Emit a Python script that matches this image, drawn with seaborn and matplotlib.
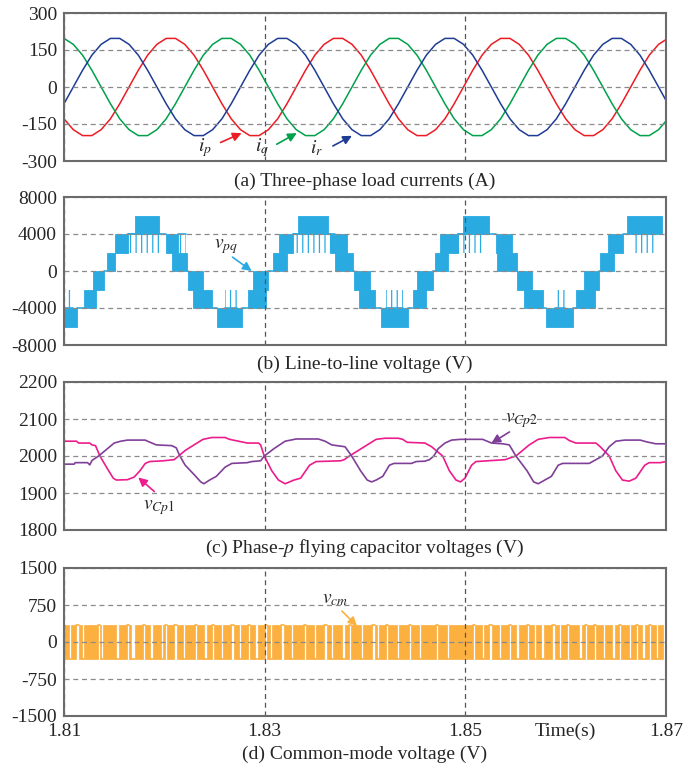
import numpy as np
import matplotlib
matplotlib.use("Agg")
import matplotlib.pyplot as plt
import seaborn as sns

# ---------------- data ----------------
T_START, T_END = 1.81, 1.87
X_TICKS = [1.81, 1.83, 1.85, 1.87]
X_TICK_LABELS = ["1.81", "1.83", "1.85", "1.87"]

# (a) three-phase load currents, sampled every 1/1080 s from 1.81 s
CURRENT_SAMPLE_RATE = 1080.0
i_p = [-129, -173, -197, -197, -173, -129, -68, 0, 68, 129, 173, 197,
       197, 173, 129, 68, 0, -68, -129, -173, -197, -197, -173, -129, -68, 0, 68, 129, 173, 197,
       197, 173, 129, 68, 0, -68, -129, -173, -197, -197, -173, -129, -68, 0, 68, 129, 173, 197,
       197, 173, 129, 68, 0, -68, -129, -173, -197, -197, -173, -129, -68, 0, 68, 129, 173, 197]
i_q = [197, 173, 129, 68, 0, -68, -129, -173, -197, -197, -173, -129, -68, 0, 68, 129, 173, 197,
       197, 173, 129, 68, 0, -68, -129, -173, -197, -197, -173, -129, -68, 0, 68, 129, 173, 197,
       197, 173, 129, 68, 0, -68, -129, -173, -197, -197, -173, -129, -68, 0, 68, 129, 173, 197,
       197, 173, 129, 68, 0, -68, -129, -173, -197, -197, -173, -129]
i_r = [-68, 0, 68, 129, 173, 197,
       197, 173, 129, 68, 0, -68, -129, -173, -197, -197, -173, -129, -68, 0, 68, 129, 173, 197,
       197, 173, 129, 68, 0, -68, -129, -173, -197, -197, -173, -129, -68, 0, 68, 129, 173, 197,
       197, 173, 129, 68, 0, -68, -129, -173, -197, -197, -173, -129, -68, 0, 68, 129, 173, 197,
       197, 173, 129, 68, 0, -68]
yticks_a = [-300, -150, 0, 150, 300]

# (b) line-to-line voltage: dense PWM blocks between lo and lo + step
VPQ_STEP = 2000
vpq_t0 = [1.81000, 1.81199, 1.81289, 1.81429, 1.81508, 1.81708, 1.82017, 1.82076, 1.82236, 1.82286,
          1.82525, 1.82834, 1.82884, 1.83083, 1.83143, 1.83332, 1.83651, 1.83701, 1.83890, 1.83940,
          1.84160, 1.84478, 1.84518, 1.84698, 1.84748, 1.84977, 1.85306, 1.85316, 1.85515, 1.85585,
          1.85804, 1.86103, 1.86183, 1.86342, 1.86422, 1.86611]
vpq_t1 = [1.81130, 1.81319, 1.81399, 1.81508, 1.81638, 1.81947, 1.82136, 1.82226, 1.82385, 1.82475,
          1.82774, 1.83013, 1.83033, 1.83223, 1.83282, 1.83631, 1.83821, 1.83880, 1.84050, 1.84100,
          1.84429, 1.84608, 1.84678, 1.84827, 1.84927, 1.85236, 1.85465, 1.85515, 1.85665, 1.85774,
          1.86073, 1.86292, 1.86332, 1.86482, 1.86572, 1.86960]
vpq_lo = [-6000, -4000, -2000, 0, 2000, 4000, 2000, 0, -2000, -4000,
          -6000, -4000, -2000, 0, 2000, 4000, 2000, 0, -2000, -4000,
          -6000, -4000, -2000, 0, 2000, 4000, 2000, 0, -2000, -4000,
          -6000, -4000, -2000, 0, 2000, 4000]
# sparse switching regions (occasional pulses) and the level the signal dwells at
vpq_sp_t0 = [1.81000, 1.81638, 1.82136, 1.82605, 1.83282, 1.84209, 1.84927, 1.85027, 1.85894, 1.86661]
vpq_sp_t1 = [1.81090, 1.81957, 1.82216, 1.82724, 1.83701, 1.84379, 1.85007, 1.85196, 1.85993, 1.86900]
vpq_sp_lo = [-4000, 2000, 2000, -4000, 2000, -4000, 2000, 2000, -4000, 2000]
vpq_sp_dwell = [-4000, 4000, 4000, -4000, 4000, -4000, 4000, 4000, -4000, 4000]
yticks_b = [-8000, -4000, 0, 4000, 8000]

# (c) phase-p flying capacitor voltages
vcp1_t = [1.81000, 1.81124, 1.81146, 1.81257, 1.81279, 1.81314, 1.81358, 1.81434, 1.81491, 1.81522,
          1.81633, 1.81699, 1.81757, 1.81810, 1.81854, 1.81987, 1.82097, 1.82142, 1.82208, 1.82296,
          1.82385, 1.82473, 1.82606, 1.82650, 1.82739, 1.82827, 1.82938, 1.82960, 1.82996, 1.83071,
          1.83137, 1.83204, 1.83292, 1.83358, 1.83447, 1.83513, 1.83757, 1.83792, 1.83845, 1.84022,
          1.84111, 1.84199, 1.84332, 1.84376, 1.84420, 1.84597, 1.84664, 1.84774, 1.84841, 1.84907,
          1.84951, 1.84996, 1.85062, 1.85106, 1.85394, 1.85504, 1.85637, 1.85726, 1.85836, 1.85991,
          1.86035, 1.86102, 1.86301, 1.86345, 1.86434, 1.86500, 1.86566, 1.86633, 1.86699, 1.86788,
          1.86832, 1.86943, 1.87000]
vcp1_v = [2040, 2040, 2035, 2035, 2030, 2028, 2000, 1965, 1940, 1935,
          1936, 1943, 1960, 1980, 1985, 1987, 1990, 2000, 2015, 2030,
          2045, 2050, 2050, 2045, 2040, 2035, 2035, 2030, 2000, 1960,
          1935, 1925, 1935, 1940, 1975, 1985, 1987, 1990, 2000, 2030,
          2045, 2048, 2048, 2045, 2037, 2035, 2025, 2000, 1960, 1935,
          1930, 1940, 1975, 1985, 1990, 2000, 2030, 2045, 2050, 2050,
          2042, 2035, 2035, 2025, 2000, 1960, 1935, 1932, 1940, 1975,
          1982, 1982, 1985]
vcp2_t = [1.81000, 1.81102, 1.81111, 1.81235, 1.81257, 1.81279, 1.81345, 1.81434, 1.81500, 1.81566,
          1.81633, 1.81810, 1.81832, 1.81876, 1.81920, 1.82075, 1.82119, 1.82155, 1.82208, 1.82296,
          1.82363, 1.82394, 1.82451, 1.82518, 1.82606, 1.82673, 1.82827, 1.82872, 1.82960, 1.82996,
          1.83093, 1.83204, 1.83314, 1.83535, 1.83602, 1.83668, 1.83801, 1.83867, 1.83956, 1.84022,
          1.84066, 1.84111, 1.84177, 1.84243, 1.84288, 1.84465, 1.84509, 1.84597, 1.84642, 1.84686,
          1.84730, 1.84797, 1.84863, 1.84951, 1.85173, 1.85217, 1.85261, 1.85372, 1.85438, 1.85504,
          1.85615, 1.85681, 1.85726, 1.85792, 1.85858, 1.85925, 1.85969, 1.86235, 1.86301, 1.86367,
          1.86434, 1.86500, 1.86589, 1.86743, 1.86810, 1.86898, 1.87000]
vcp2_v = [1978, 1978, 1982, 1982, 1976, 1988, 2000, 2020, 2035, 2040,
          2043, 2043, 2040, 2035, 2030, 2028, 2022, 2000, 1975, 1950,
          1930, 1925, 1935, 1945, 1970, 1980, 1982, 1985, 1987, 2000,
          2020, 2040, 2046, 2046, 2040, 2030, 2025, 2000, 1960, 1935,
          1930, 1935, 1945, 1975, 1980, 1980, 1985, 1986, 1990, 2000,
          2020, 2035, 2043, 2045, 2045, 2040, 2035, 2033, 2030, 2000,
          1960, 1930, 1925, 1935, 1945, 1975, 1980, 1980, 1990, 2000,
          2025, 2040, 2043, 2043, 2038, 2033, 2033]
yticks_c = [1800, 1900, 2000, 2100, 2200]

# (d) common-mode voltage: two-level switching with the white gaps where it dwells
vcm_high, vcm_low = 335, -335
vcm_gap_t0 = [1.81050, 1.81115, 1.81182, 1.81339, 1.81371, 1.81523, 1.81628, 1.81668, 1.81788, 1.81862,
              1.81967, 1.82009, 1.82092, 1.82186, 1.82306, 1.82391, 1.82476, 1.82568, 1.82660, 1.82745,
              1.82834, 1.82899, 1.83004, 1.83056, 1.83159, 1.83263, 1.83393, 1.83493, 1.83587, 1.83664,
              1.83767, 1.83841, 1.83961, 1.84066, 1.84123, 1.84210, 1.84322, 1.84440, 1.84542, 1.84709,
              1.84821, 1.85078, 1.85167, 1.85232, 1.85340, 1.85437, 1.85501, 1.85616, 1.85688, 1.85751,
              1.85860, 1.85938, 1.86015, 1.86130, 1.86197, 1.86284, 1.86376, 1.86459, 1.86533, 1.86633,
              1.86703, 1.86758, 1.86832, 1.86905]
vcm_gap_t1 = [1.81070, 1.81145, 1.81197, 1.81359, 1.81386, 1.81553, 1.81648, 1.81708, 1.81808, 1.81892,
              1.81987, 1.82024, 1.82122, 1.82206, 1.82326, 1.82421, 1.82496, 1.82583, 1.82690, 1.82765,
              1.82854, 1.82929, 1.83024, 1.83071, 1.83188, 1.83283, 1.83413, 1.83512, 1.83617, 1.83679,
              1.83797, 1.83861, 1.83981, 1.84096, 1.84138, 1.84230, 1.84337, 1.84460, 1.84557, 1.84729,
              1.84836, 1.85098, 1.85187, 1.85262, 1.85354, 1.85457, 1.85531, 1.85636, 1.85703, 1.85781,
              1.85890, 1.85953, 1.86035, 1.86160, 1.86212, 1.86304, 1.86391, 1.86488, 1.86553, 1.86653,
              1.86723, 1.86788, 1.86852, 1.86920]
vcm_gap_lvl = [-1, 1, -1, 1, -1, -1, 1, -1, 1, -1,
               -1, 1, 1, -1, 1, -1, 1, -1, 1, -1,
               1, -1, 1, -1, 1, -1, 1, -1, 1, -1,
               -1, 1, -1, 1, -1, 1, -1, 1, -1, 1,
               -1, 1, -1, 1, -1, 1, -1, 1, -1, -1,
               1, -1, 1, -1, 1, 1, -1, -1, 1, -1,
               1, -1, 1, -1]
yticks_d = [-1500, -750, 0, 750, 1500]

captions = ["(a) Three-phase load currents (A)",
            "(b) Line-to-line voltage (V)",
            "(c) Phase-$p$ flying capacitor voltages (V)",
            "(d) Common-mode voltage (V)"]

# ---------------- style ----------------
sns.set_theme(style="white")
plt.rcParams["font.family"] = ["Liberation Serif", "DejaVu Serif"]
plt.rcParams["mathtext.fontset"] = "stix"
plt.rcParams["hatch.linewidth"] = 0.9

C_P, C_Q, C_R = "#EC1C24", "#00A14B", "#1F3C94"
C_B = "#29ABE2"
C_C1, C_C2 = "#EC1C8C", "#7F3F98"
C_D = "#FBB040"
GRID_H = "#8a8a8a"
GRID_V = "#555555"
FS = 14

fig = plt.figure(figsize=(6.85, 7.68), dpi=100)
L, W = 64 / 685, 602 / 685
tops = [13, 197, 382, 568]
H = 148
axes = []
for top in tops:
    ax = fig.add_axes([L, 1 - (top + H) / 768, W, H / 768])
    axes.append(ax)


def style_axis(ax, yticks, show_x=False):
    ax.set_xlim(T_START, T_END)
    ax.set_ylim(yticks[0], yticks[-1])
    ax.set_yticks(yticks)
    ax.set_yticklabels([str(v) for v in yticks], fontsize=FS)
    ax.set_xticks(X_TICKS)
    if show_x:
        ax.set_xticklabels(X_TICK_LABELS, fontsize=FS)
    else:
        ax.set_xticklabels([])
    ax.tick_params(length=0, pad=5)
    ax.grid(True, axis="y", linestyle=(0, (4, 3)), color=GRID_H, linewidth=0.9)
    ax.grid(True, axis="x", linestyle=(0, (4, 3)), color=GRID_V, linewidth=0.9)
    ax.set_axisbelow(False)
    for s in ax.spines.values():
        s.set_color("#6b6b6b")
        s.set_linewidth(1.5)
        s.set_zorder(3)
    ax.set_xlabel("")
    ax.set_ylabel("")


def arrow(ax, tail, head, color):
    ax.annotate("", xy=head, xytext=tail,
                arrowprops=dict(arrowstyle="-|>", color=color, lw=1.2,
                                mutation_scale=13, shrinkA=0, shrinkB=0),
                zorder=5)


# (a)
ax = axes[0]
t_a = T_START + np.arange(len(i_p)) / CURRENT_SAMPLE_RATE
for vals, col in [(i_p, C_P), (i_q, C_Q), (i_r, C_R)]:
    sns.lineplot(x=t_a, y=vals, color=col, linewidth=1.1, ax=ax)
style_axis(ax, yticks_a)
ax.text(1.8240, -247, "$i_p$", fontsize=FS, ha="center", va="center")
ax.text(1.8297, -246, "$i_q$", fontsize=FS, ha="center", va="center")
ax.text(1.8352, -246, "$i_r$", fontsize=FS, ha="center", va="center")
arrow(ax, (1.8256, -225), (1.8277, -187), C_P)
arrow(ax, (1.8312, -232), (1.8332, -187), C_Q)
arrow(ax, (1.8368, -239), (1.8387, -198), C_R)

# (b)
ax = axes[1]
for t0, t1, lo in zip(vpq_t0, vpq_t1, vpq_lo):
    ax.fill_between([t0, t1], lo, lo + VPQ_STEP, facecolor=C_B, edgecolor=C_B, linewidth=0.6)
for t0, t1, lo, dw in zip(vpq_sp_t0, vpq_sp_t1, vpq_sp_lo, vpq_sp_dwell):
    ax.fill_between([t0, t1], lo, lo + VPQ_STEP, facecolor="none", edgecolor=C_B,
                    hatch="|||", linewidth=0)
    sns.lineplot(x=[t0, t1], y=[dw, dw], color=C_B, linewidth=1.2, ax=ax)
order = np.argsort(vpq_t0)
for a, b in zip(order[:-1], order[1:]):
    lo_a, hi_a = vpq_lo[a], vpq_lo[a] + VPQ_STEP
    lo_b, hi_b = vpq_lo[b], vpq_lo[b] + VPQ_STEP
    if lo_b == hi_a:
        lvl = hi_a
    elif hi_b == lo_a:
        lvl = lo_a
    else:
        continue
    if vpq_t0[b] > vpq_t1[a]:
        ax.plot([vpq_t1[a], vpq_t0[b]], [lvl, lvl], color=C_B, linewidth=1.2)
style_axis(ax, yticks_b)
ax.text(1.8262, 2600, "$v_{pq}$", fontsize=FS, ha="center", va="center")
arrow(ax, (1.8268, 1500), (1.8287, 0), C_B)

# (c)
ax = axes[2]
sns.lineplot(x=vcp1_t, y=vcp1_v, color=C_C1, linewidth=1.2, ax=ax)
sns.lineplot(x=vcp2_t, y=vcp2_v, color=C_C2, linewidth=1.2, ax=ax)
style_axis(ax, yticks_c)
ax.text(1.8556, 2095, "$v_{Cp2}$", fontsize=FS, ha="center", va="center")
arrow(ax, (1.8544, 2065), (1.8526, 2035), C_C2)
ax.text(1.8195, 1861, "$v_{Cp1}$", fontsize=FS, ha="center", va="center")
arrow(ax, (1.8190, 1904), (1.8174, 1942), C_C1)

# (d)
ax = axes[3]
segs = []
cur = T_START
for g0, g1 in zip(vcm_gap_t0, vcm_gap_t1):
    segs.append((cur, g0 - cur))
    cur = g1
segs.append((cur, T_END - 0.0003 - cur))
ax.broken_barh(segs, (vcm_low, vcm_high - vcm_low), facecolors=C_D, edgecolor=C_D, linewidth=0.5)
for g0, g1, lv in zip(vcm_gap_t0, vcm_gap_t1, vcm_gap_lvl):
    y = vcm_high if lv > 0 else vcm_low
    ax.plot([g0, g1], [y, y], color=C_D, linewidth=1.2)
style_axis(ax, yticks_d, show_x=True)
ax.text(1.8370, 862, "$v_{cm}$", fontsize=FS, ha="center", va="center")
arrow(ax, (1.8377, 628), (1.8392, 324), C_D)
ax.annotate("Time(s)", xy=(1.86, 0), xycoords=("data", "axes fraction"),
            xytext=(0, -5), textcoords="offset points", ha="center", va="top", fontsize=FS)

# captions
cx = L + W / 2
for cap, y in zip(captions, [181, 364, 548, 754]):
    fig.text(cx, 1 - y / 768, cap, ha="center", va="center", fontsize=FS)

fig.savefig("out.png", dpi=100)
